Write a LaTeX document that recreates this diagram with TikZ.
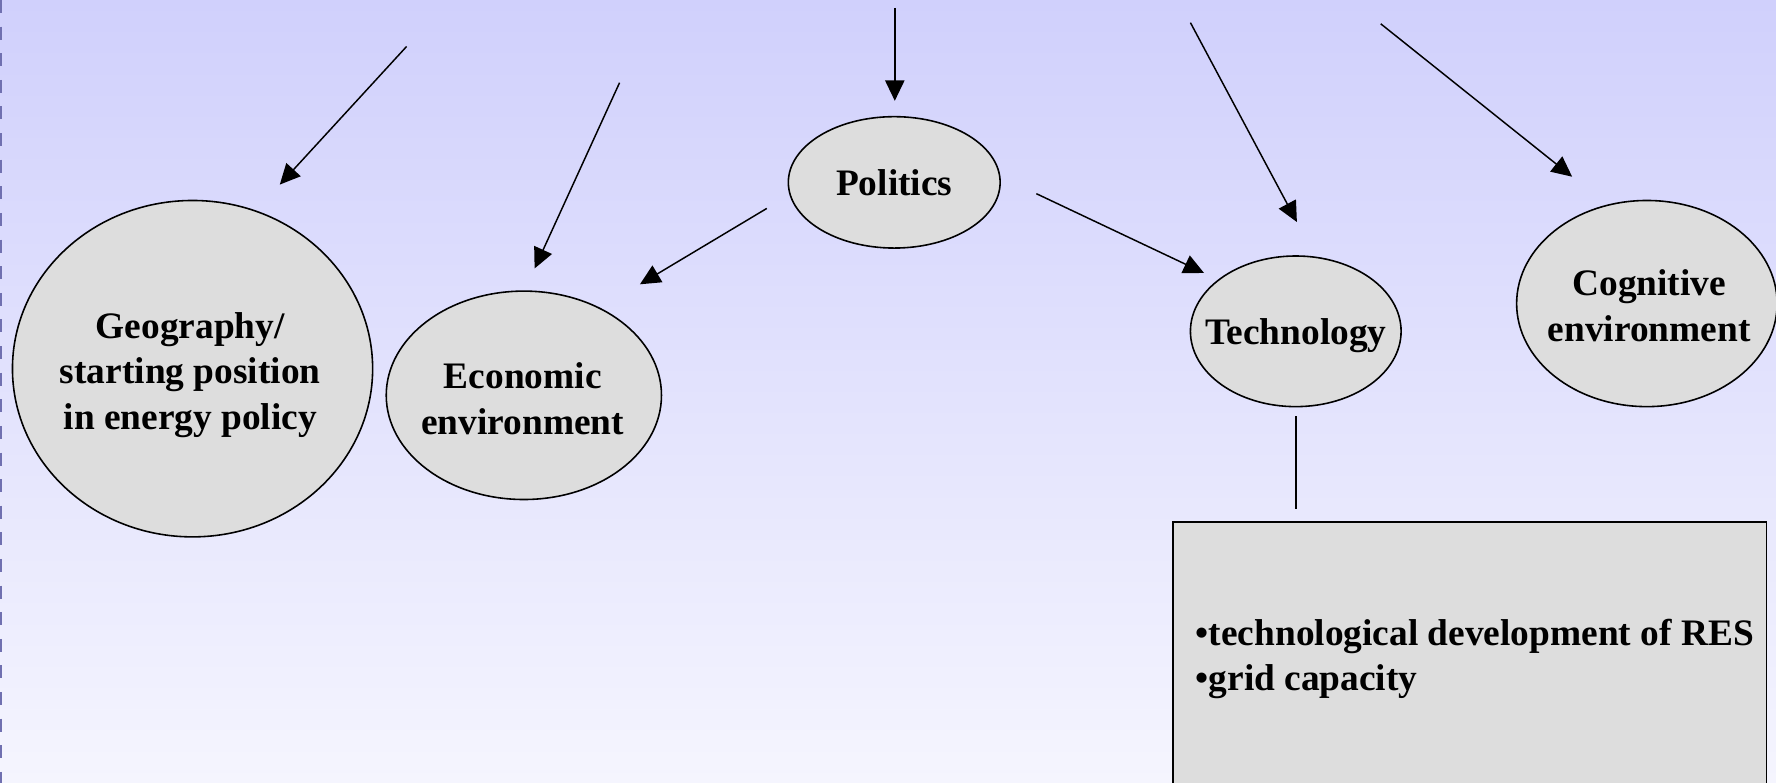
\documentclass[tikz,border=0pt]{standalone}
\usepackage{fontspec}
\setmainfont{Liberation Serif}
\usetikzlibrary{arrows.meta,shapes.geometric}

\definecolor{bgtop}{RGB}{208,208,252}
\definecolor{bgbot}{RGB}{245,245,254}
\definecolor{nodefill}{RGB}{221,221,221}
\definecolor{rulecol}{RGB}{112,112,176}

\begin{document}
\begin{tikzpicture}[x=1pt,y=-1pt,
  factor/.style={ellipse,draw=black,fill=nodefill,line width=1.4pt,inner sep=0pt},
  caption/.style={align=center,inner sep=0pt,font=\fontsize{33}{40}\selectfont\bfseries},
  listbox/.style={rectangle,draw=black,fill=nodefill,line width=1.4pt,inner sep=0pt,anchor=north west},
  listtext/.style={align=left,inner sep=0pt,anchor=west,font=\fontsize{33}{40}\selectfont\bfseries},
  influence/.style={line width=1.3pt,-{Triangle[length=18pt,width=17pt]}},
  link/.style={line width=1.3pt}]

% background
\shade[top color=bgtop,bottom color=bgbot] (0,0) rectangle (1568,691);
\useasboundingbox (0,0) rectangle (1568,691);
\draw[rulecol,line width=1.8pt,dash pattern=on 11.5pt off 12pt] (1,0) -- (1,691);

% factors (ellipse sized independently of its caption)
\node[factor,minimum width=318,minimum height=297,
  label={[caption,xshift=-2pt,yshift=-5.5pt]center:Geography/\\starting position\\in energy policy}]
  (geo) at (170,325.5) {};
\node[factor,minimum width=243,minimum height=184,
  label={[caption,xshift=-1pt,yshift=-3pt]center:Economic\\environment}]
  (econ) at (462.5,349) {};
\node[factor,minimum width=187,minimum height=116,
  label={[caption]center:Politics}]
  (pol) at (789.5,161) {};
\node[factor,minimum width=186,minimum height=133,
  label={[caption,yshift=-4pt]center:Technology}]
  (tech) at (1144,292.5) {};
\node[factor,minimum width=230,minimum height=182,
  label={[caption,xshift=2pt,yshift=-2pt]center:Cognitive\\environment}]
  (cog) at (1454,268) {};

% technology details
\node[listbox,minimum width=524,minimum height=240] (res) at (1035,460) {};
\node[listtext] (resitems) at (1055.5,582)
  {•technological development of RES\\•grid capacity};

% free ends of the incoming influences
\coordinate (geoSrc) at (359,41);   \coordinate (geoTip) at (247,163);
\coordinate (econSrc) at (547,73);  \coordinate (econTip) at (472,237);
\coordinate (polSrc) at (790,7);    \coordinate (polTip) at (790,89);
\coordinate (techSrc) at (1051,20); \coordinate (techTip) at (1145,196);
\coordinate (cogSrc) at (1219,21);  \coordinate (cogTip) at (1388,156);
\coordinate (polOutL) at (677,184); \coordinate (econIn) at (565,251);
\coordinate (polOutR) at (915,171); \coordinate (techIn) at (1063,241);

\draw[influence] (geoSrc) -- (geoTip);
\draw[influence] (econSrc) -- (econTip);
\draw[influence] (polSrc) -- (polTip);
\draw[influence] (techSrc) -- (techTip);
\draw[influence] (cogSrc) -- (cogTip);
\draw[influence] (polOutL) -- (econIn);
\draw[influence] (polOutR) -- (techIn);

\draw[link,shorten <=8pt,shorten >=11pt] (tech.south) -- (tech.south |- res.north);
\end{tikzpicture}
\end{document}
